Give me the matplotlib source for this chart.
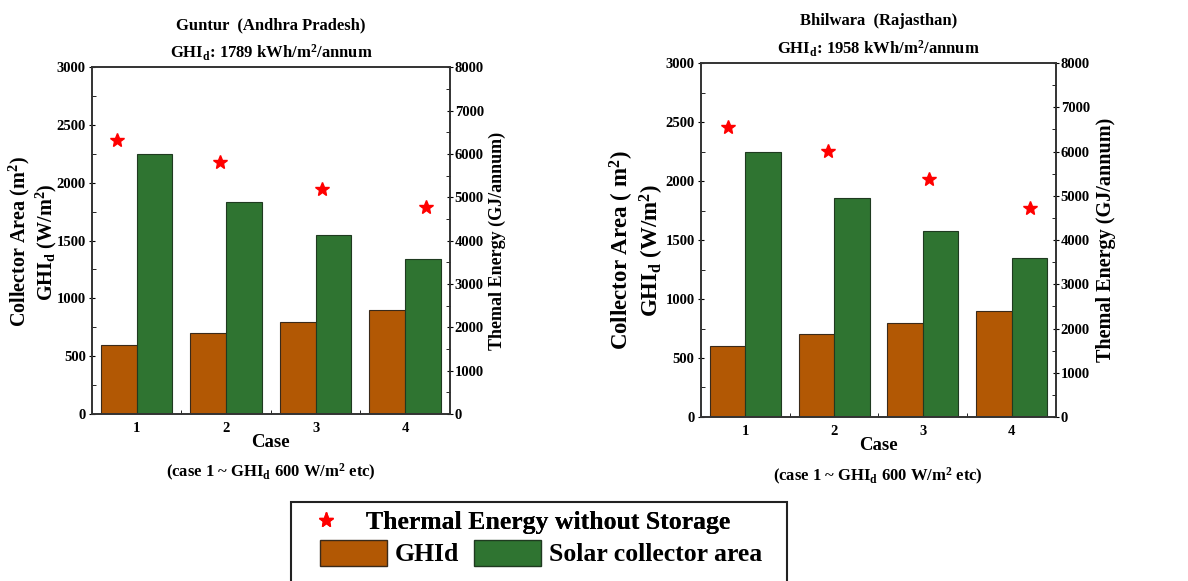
import matplotlib
matplotlib.use("Agg")
import matplotlib.pyplot as plt
from matplotlib.lines import Line2D
from matplotlib.patches import Patch, Rectangle
from matplotlib.ticker import MultipleLocator

plt.rcParams["font.family"] = ["Liberation Serif", "DejaVu Serif"]
plt.rcParams["font.weight"] = "bold"
plt.rcParams["mathtext.fontset"] = "custom"
plt.rcParams["mathtext.rm"] = "Liberation Serif:bold"
plt.rcParams["mathtext.it"] = "Liberation Serif:bold"
plt.rcParams["mathtext.bf"] = "Liberation Serif:bold"

# data
cases = [1, 2, 3, 4]
ghid = [600, 700, 800, 900]

guntur_area = [2250, 1835, 1550, 1345]
guntur_energy = [6320, 5820, 5190, 4780]
guntur_star_x = [0.78, 1.93, 3.07, 4.23]

bhilwara_area = [2250, 1860, 1580, 1345]
bhilwara_energy = [6560, 6010, 5380, 4730]
bhilwara_star_x = [0.80, 1.93, 3.07, 4.21]

ORANGE = "#B25804"
GREEN = "#2F7431"
SPINE = "#333333"


def draw_panel(ax, area, energy, star_x, title1, title2, ylab, big=False):
    w = 0.4
    ax.bar([c - w / 2 for c in cases], ghid, width=w, color=ORANGE,
           edgecolor="#3a2a1a", linewidth=0.8)
    ax.bar([c + w / 2 for c in cases], area, width=w, color=GREEN,
           edgecolor="#1f3a20", linewidth=0.8)
    ax.set_xlim(0.5, 4.5)
    ax.set_ylim(0, 3000)
    ax.set_xticks(cases)
    ax.xaxis.set_minor_locator(MultipleLocator(0.5))
    ax.yaxis.set_major_locator(MultipleLocator(500))
    ax.yaxis.set_minor_locator(MultipleLocator(250))
    ax.tick_params(axis="x", which="major", length=0, labelsize=10.5, pad=6)
    ax.tick_params(axis="x", which="minor", direction="in", length=3)
    ax.tick_params(axis="y", which="major", direction="inout", length=5,
                   labelsize=10.5, left=True, pad=2)
    ax.tick_params(axis="y", which="minor", direction="in", length=3)
    for s in ax.spines.values():
        s.set_color(SPINE)
        s.set_linewidth(1.2)

    ax2 = ax.twinx()
    ax2.set_ylim(0, 8000)
    ax2.yaxis.set_major_locator(MultipleLocator(1000))
    ax2.yaxis.set_minor_locator(MultipleLocator(500))
    ax2.tick_params(axis="y", which="major", direction="inout", length=5,
                    labelsize=10.5, pad=1)
    ax2.tick_params(axis="y", which="minor", direction="in", length=3)
    ax2.plot(star_x, energy, linestyle="none", marker="*", color="red",
             markersize=10)
    for s in ax2.spines.values():
        s.set_color(SPINE)
        s.set_linewidth(1.2)

    if big:
        lab = "Collector Area ( m$^{2}$)\nGHI$_{d}$ (W/m$^{2}$)"
    else:
        lab = "Collector Area (m$^{2}$)\nGHI$_{d}$ (W/m$^{2}$)"
    ax.text(ylab[0], ylab[1], lab,
            transform=ax.transAxes, rotation=90, ha="center", va="center",
            fontsize=16.5 if big else 14.5, linespacing=1.1)
    ax.text(ylab[2], 0.5, "Themal Energy (GJ/annum)", transform=ax.transAxes,
            rotation=90, ha="center", va="center", fontsize=14.5 if big else 13)
    ax.text(0.5, 1.12, title1, transform=ax.transAxes, ha="center",
            va="center", fontsize=12)
    ax.text(0.5, 1.04, title2, transform=ax.transAxes, ha="center",
            va="center", fontsize=12)
    ax.text(0.5, -0.082, "Case", transform=ax.transAxes, ha="center",
            va="center", fontsize=13.5)
    ax.text(0.5, -0.168, "(case 1 ~ GHI$_{d}$ 600 W/m$^{2}$ etc)",
            transform=ax.transAxes, ha="center", va="center", fontsize=12)


fig = plt.figure(figsize=(11.88, 5.81), dpi=100)

ax_l = fig.add_axes([0.0774, 0.2874, 0.3013, 0.597])
draw_panel(ax_l, guntur_area, guntur_energy, guntur_star_x,
           "Guntur  (Andhra Pradesh)", "GHI$_{d}$: 1789 kWh/m$^{2}$/annum",
           (-0.165, 0.496, 1.133))

ax_r = fig.add_axes([0.590, 0.2823, 0.2988, 0.609])
draw_panel(ax_r, bhilwara_area, bhilwara_energy, bhilwara_star_x,
           "Bhilwara  (Rajasthan)", "GHI$_{d}$: 1958 kWh/m$^{2}$/annum",
           (-0.18, 0.47, 1.14), big=True)

# legend box at the bottom, running off the lower edge
fig.patches.append(Rectangle((291 / 1188, -0.05), 496 / 1188, 79 / 581 + 0.05,
                             transform=fig.transFigure, fill=False,
                             edgecolor="#222222", linewidth=1.5))

star_h = Line2D([], [], linestyle="none", marker="*", color="red",
                markersize=11)
leg1 = fig.legend(handles=[star_h], labels=["Thermal Energy without Storage"],
                  loc="center left", bbox_to_anchor=(300 / 1188, 1 - 522 / 581),
                  frameon=False, fontsize=18.5, handlelength=2.0,
                  handletextpad=0.55, borderaxespad=0, borderpad=0)
fig.add_artist(leg1)
box_h = [Patch(facecolor=ORANGE, edgecolor="#3a2a1a"),
         Patch(facecolor=GREEN, edgecolor="#1f3a20")]
fig.legend(handles=box_h, labels=["GHId", "Solar collector area"], ncol=2,
           loc="center left", bbox_to_anchor=(320 / 1188, 1 - 553 / 581),
           frameon=False, fontsize=18.5, handlelength=2.6, handleheight=1.2,
           handletextpad=0.3, columnspacing=0.6, borderaxespad=0, borderpad=0)

fig.savefig("out.png", dpi=100)
